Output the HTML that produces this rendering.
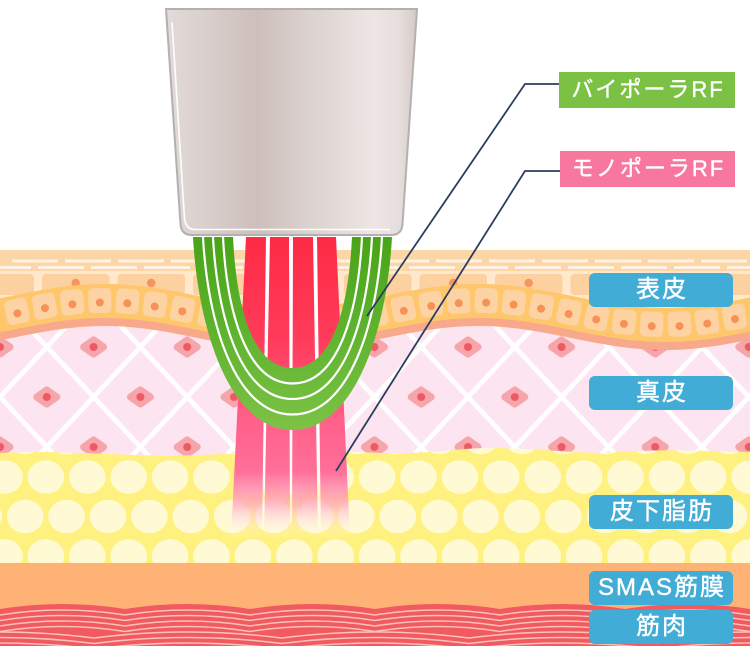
<!DOCTYPE html>
<html><head><meta charset="utf-8">
<style>
html,body{margin:0;padding:0;background:#fff;}
body{width:750px;height:646px;position:relative;overflow:hidden;}
svg{position:absolute;left:0;top:0;}
.lab{position:absolute;color:#fff;text-align:center;font-family:"Liberation Sans","Noto Sans CJK JP",sans-serif;white-space:nowrap;-webkit-text-stroke:0.4px #fff;}
.g{left:559px;top:72px;width:176px;height:36px;line-height:36px;font-size:22px;letter-spacing:2px;background:#7bc143;text-indent:2px;}
.p{left:560px;top:151px;width:175px;height:36px;line-height:36px;font-size:22px;letter-spacing:2px;background:#f7779f;text-indent:2px;}
.b{left:589px;width:144px;height:34px;line-height:34px;font-size:24px;letter-spacing:2px;background:#41acd5;border-radius:6px;text-indent:2px;}
</style></head><body>
<svg width="750" height="646" viewBox="0 0 750 646" xmlns="http://www.w3.org/2000/svg">
<defs>
  <g id="dc">
    <polygon points="-10,0 0,-7 10,0 0,7" fill="#f6a5aa" stroke="#f6a5aa" stroke-width="7" stroke-linejoin="round"/>
    <circle r="4" fill="#ee5a64"/>
  </g>
  <pattern id="derm" patternUnits="userSpaceOnUse" x="0" y="47" width="93.6" height="100">
    <rect width="93.6" height="100" fill="#fce4f0"/>
    <g stroke="#fff" stroke-width="4.8" fill="none">
      <path d="M-10,39.3 L56.8,110.7"/>
      <path d="M36.8,-10.7 L103.6,60.7"/>
      <path d="M56.8,-10.7 L-10,60.7"/>
      <path d="M103.6,39.3 L36.8,110.7"/>
    </g>
    <use href="#dc" x="46.8" y="50"/>
    <use href="#dc" x="0" y="0"/>
    <use href="#dc" x="93.6" y="0"/>
    <use href="#dc" x="0" y="100"/>
    <use href="#dc" x="93.6" y="100"/>
  </pattern>
  <pattern id="fat" patternUnits="userSpaceOnUse" x="4.5" y="477" width="41.4" height="79">
    <rect width="41.4" height="79" fill="#fff17f"/>
    <g fill="#fffad4">
      <ellipse cx="0" cy="0" rx="18.3" ry="16.8"/>
      <ellipse cx="41.4" cy="0" rx="18.3" ry="16.8"/>
      <ellipse cx="0" cy="79" rx="18.3" ry="16.8"/>
      <ellipse cx="41.4" cy="79" rx="18.3" ry="16.8"/>
      <ellipse cx="20.7" cy="39.5" rx="18.3" ry="16.8"/>
    </g>
  </pattern>
  <pattern id="tc" patternUnits="userSpaceOnUse" x="42" y="274" width="75.5" height="22">
    <rect x="0" y="0" width="67.5" height="21" rx="4" fill="#fdd09f"/>
    <circle cx="33.7" cy="9" r="4.2" fill="#f8945e"/>
  </pattern>
  <linearGradient id="devg" gradientUnits="userSpaceOnUse" x1="166" y1="0" x2="417" y2="0">
    <stop offset="0" stop-color="#e2dbd9"/>
    <stop offset="0.147" stop-color="#dad0cd"/>
    <stop offset="0.363" stop-color="#cdbfbb"/>
    <stop offset="0.574" stop-color="#dcd2cf"/>
    <stop offset="0.825" stop-color="#ede6e4"/>
    <stop offset="0.932" stop-color="#e6dedc"/>
    <stop offset="1" stop-color="#d4c9c6"/>
  </linearGradient>
  <linearGradient id="greeng" gradientUnits="userSpaceOnUse" x1="0" y1="237" x2="0" y2="430">
    <stop offset="0" stop-color="#48a418"/>
    <stop offset="0.5" stop-color="#5fb32f"/>
    <stop offset="1" stop-color="#7cc246"/>
  </linearGradient>
  <linearGradient id="redg" gradientUnits="userSpaceOnUse" x1="0" y1="237" x2="0" y2="538">
    <stop offset="0" stop-color="#fd2b44"/>
    <stop offset="0.35" stop-color="#ff3c5b"/>
    <stop offset="0.6" stop-color="#ff5f89"/>
    <stop offset="0.78" stop-color="#ff6f99"/>
    <stop offset="0.89" stop-color="#ff8aad" stop-opacity="0.55"/>
    <stop offset="1" stop-color="#ffffff" stop-opacity="0"/>
  </linearGradient>
  <linearGradient id="wfade" gradientUnits="userSpaceOnUse" x1="0" y1="237" x2="0" y2="540">
    <stop offset="0" stop-color="#fff" stop-opacity="1"/>
    <stop offset="0.7" stop-color="#fff" stop-opacity="1"/>
    <stop offset="0.85" stop-color="#fff" stop-opacity="0.5"/>
    <stop offset="1" stop-color="#fff" stop-opacity="0"/>
  </linearGradient>
</defs>

<rect width="750" height="646" fill="#fff"/>

<!-- dermis -->
<rect x="0" y="310" width="750" height="160" fill="url(#derm)"/>

<!-- top epidermis band -->
<rect x="0" y="250" width="750" height="62" fill="#fdd6a8"/>
<line x1="12" y1="261" x2="750" y2="261" stroke="#fff2e2" stroke-width="3" stroke-dasharray="46 7"/>
<line x1="-15" y1="267.5" x2="750" y2="267.5" stroke="#fff2e2" stroke-width="3" stroke-dasharray="46 7"/>
<rect x="0" y="271" width="750" height="41" fill="#ffe8cc"/>
<rect x="0" y="274" width="750" height="21" fill="url(#tc)"/>
<rect x="0" y="274" width="33" height="21" rx="4" fill="#fdd09f"/>

<!-- wave band -->
<path d="M-81.5,308 C-13.6,308 37.1,284 105,284 C172.9,284 223.6,308 291.5,308 C359.4,308 410.1,284 478,284 C545.9,284 596.6,308 664.5,308 C732.4,308 783.1,284 851,284 L851,326 C783.1,326 732.4,350 664.5,350 C596.6,350 545.9,326 478,326 C410.1,326 359.4,350 291.5,350 C223.6,350 172.9,326 105,326 C37.1,326 -13.6,350 -81.5,350 Z" fill="#f8a88b"/>
<path d="M-81.5,308 C-13.6,308 37.1,284 105,284 C172.9,284 223.6,308 291.5,308 C359.4,308 410.1,284 478,284 C545.9,284 596.6,308 664.5,308 C732.4,308 783.1,284 851,284 L851,318 C783.1,318 732.4,342 664.5,342 C596.6,342 545.9,318 478,318 C410.1,318 359.4,342 291.5,342 C223.6,342 172.9,318 105,318 C37.1,318 -13.6,342 -81.5,342 Z" fill="#fec76c"/>
<g>
  <g transform="translate(17,311.4) rotate(-11.4)"><rect x="-11.5" y="-12.5" width="23" height="25" rx="5" fill="#fdd3a3"/><circle cy="2" r="4" fill="#f79157"/></g>
  <g transform="translate(44.6,306.2) rotate(-9.7)"><rect x="-11.5" y="-12.5" width="23" height="25" rx="5" fill="#fdd3a3"/><circle cy="2" r="4" fill="#f79157"/></g>
  <g transform="translate(72.2,302.3) rotate(-6)"><rect x="-11.5" y="-12.5" width="23" height="25" rx="5" fill="#fdd3a3"/><circle cy="2" r="4" fill="#f79157"/></g>
  <g transform="translate(99.8,300.5) rotate(-1)"><rect x="-11.5" y="-12.5" width="23" height="25" rx="5" fill="#fdd3a3"/><circle cy="2" r="4" fill="#f79157"/></g>
  <g transform="translate(127.4,301.3) rotate(4.2)"><rect x="-11.5" y="-12.5" width="23" height="25" rx="5" fill="#fdd3a3"/><circle cy="2" r="4" fill="#f79157"/></g>
  <g transform="translate(155,304.5) rotate(8.5)"><rect x="-11.5" y="-12.5" width="23" height="25" rx="5" fill="#fdd3a3"/><circle cy="2" r="4" fill="#f79157"/></g>
  <g transform="translate(182.6,309.4) rotate(11)"><rect x="-11.5" y="-12.5" width="23" height="25" rx="5" fill="#fdd3a3"/><circle cy="2" r="4" fill="#f79157"/></g>
  <g transform="translate(210.2,314.9) rotate(11.2)"><rect x="-11.5" y="-12.5" width="23" height="25" rx="5" fill="#fdd3a3"/><circle cy="2" r="4" fill="#f79157"/></g>
  <g transform="translate(237.8,319.9) rotate(9)"><rect x="-11.5" y="-12.5" width="23" height="25" rx="5" fill="#fdd3a3"/><circle cy="2" r="4" fill="#f79157"/></g>
  <g transform="translate(265.4,323.4) rotate(4.8)"><rect x="-11.5" y="-12.5" width="23" height="25" rx="5" fill="#fdd3a3"/><circle cy="2" r="4" fill="#f79157"/></g>
  <g transform="translate(293,324.5) rotate(-0.3)"><rect x="-11.5" y="-12.5" width="23" height="25" rx="5" fill="#fdd3a3"/><circle cy="2" r="4" fill="#f79157"/></g>
  <g transform="translate(320.6,323.1) rotate(-5.4)"><rect x="-11.5" y="-12.5" width="23" height="25" rx="5" fill="#fdd3a3"/><circle cy="2" r="4" fill="#f79157"/></g>
  <g transform="translate(348.2,319.4) rotate(-9.3)"><rect x="-11.5" y="-12.5" width="23" height="25" rx="5" fill="#fdd3a3"/><circle cy="2" r="4" fill="#f79157"/></g>
  <g transform="translate(375.8,314.3) rotate(-11.3)"><rect x="-11.5" y="-12.5" width="23" height="25" rx="5" fill="#fdd3a3"/><circle cy="2" r="4" fill="#f79157"/></g>
  <g transform="translate(403.4,308.8) rotate(-10.8)"><rect x="-11.5" y="-12.5" width="23" height="25" rx="5" fill="#fdd3a3"/><circle cy="2" r="4" fill="#f79157"/></g>
  <g transform="translate(431,304.1) rotate(-8)"><rect x="-11.5" y="-12.5" width="23" height="25" rx="5" fill="#fdd3a3"/><circle cy="2" r="4" fill="#f79157"/></g>
  <g transform="translate(458.6,301.1) rotate(-3.7)"><rect x="-11.5" y="-12.5" width="23" height="25" rx="5" fill="#fdd3a3"/><circle cy="2" r="4" fill="#f79157"/></g>
  <g transform="translate(486.2,300.6) rotate(1.6)"><rect x="-11.5" y="-12.5" width="23" height="25" rx="5" fill="#fdd3a3"/><circle cy="2" r="4" fill="#f79157"/></g>
  <g transform="translate(513.8,302.6) rotate(6.5)"><rect x="-11.5" y="-12.5" width="23" height="25" rx="5" fill="#fdd3a3"/><circle cy="2" r="4" fill="#f79157"/></g>
  <g transform="translate(541.4,306.7) rotate(10)"><rect x="-11.5" y="-12.5" width="23" height="25" rx="5" fill="#fdd3a3"/><circle cy="2" r="4" fill="#f79157"/></g>
  <g transform="translate(569,312) rotate(11.4)"><rect x="-11.5" y="-12.5" width="23" height="25" rx="5" fill="#fdd3a3"/><circle cy="2" r="4" fill="#f79157"/></g>
  <g transform="translate(596.6,317.5) rotate(10.4)"><rect x="-11.5" y="-12.5" width="23" height="25" rx="5" fill="#fdd3a3"/><circle cy="2" r="4" fill="#f79157"/></g>
  <g transform="translate(624.2,321.8) rotate(7.2)"><rect x="-11.5" y="-12.5" width="23" height="25" rx="5" fill="#fdd3a3"/><circle cy="2" r="4" fill="#f79157"/></g>
  <g transform="translate(651.8,324.2) rotate(2.4)"><rect x="-11.5" y="-12.5" width="23" height="25" rx="5" fill="#fdd3a3"/><circle cy="2" r="4" fill="#f79157"/></g>
  <g transform="translate(679.4,324.1) rotate(-2.8)"><rect x="-11.5" y="-12.5" width="23" height="25" rx="5" fill="#fdd3a3"/><circle cy="2" r="4" fill="#f79157"/></g>
  <g transform="translate(707,321.6) rotate(-7.5)"><rect x="-11.5" y="-12.5" width="23" height="25" rx="5" fill="#fdd3a3"/><circle cy="2" r="4" fill="#f79157"/></g>
  <g transform="translate(734.6,317.1) rotate(-10.5)"><rect x="-11.5" y="-12.5" width="23" height="25" rx="5" fill="#fdd3a3"/><circle cy="2" r="4" fill="#f79157"/></g>
</g>

<!-- fat -->
<path d="M0,453 C60,449 140,458 200,455 C260,452 320,450 380,453 C430,455 460,447 500,448 C560,450 590,455 620,452 C670,449 710,451 750,452 L750,563 L0,563 Z" fill="url(#fat)"/>

<!-- SMAS -->
<rect x="0" y="563" width="750" height="50" fill="#feb276"/>

<!-- muscle -->
<path d="M0,609 Q62.5,599 125,609 Q187.5,599 250,609 Q312.5,599 375,609 Q437.5,599 500,609 Q562.5,599 625,609 Q687.5,599 750,609 L750,646 L0,646 Z" fill="#f15b5f"/>
<g fill="none" stroke="#fcc1bb" stroke-width="1.5">
  <path d="M0,615 Q62.5,605 125,615 Q187.5,605 250,615 Q312.5,605 375,615 Q437.5,605 500,615 Q562.5,605 625,615 Q687.5,605 750,615"/>
  <path d="M0,620.5 Q62.5,610.5 125,620.5 Q187.5,610.5 250,620.5 Q312.5,610.5 375,620.5 Q437.5,610.5 500,620.5 Q562.5,610.5 625,620.5 Q687.5,610.5 750,620.5"/>
  <path d="M0,626 Q62.5,616 125,626 Q187.5,616 250,626 Q312.5,616 375,626 Q437.5,616 500,626 Q562.5,616 625,626 Q687.5,616 750,626"/>
  <path d="M0,631.5 Q62.5,621.5 125,631.5 Q187.5,621.5 250,631.5 Q312.5,621.5 375,631.5 Q437.5,621.5 500,631.5 Q562.5,621.5 625,631.5 Q687.5,621.5 750,631.5"/>
  <path d="M-93.5,638 Q0.25,626 94,638 Q187.75,626 281.5,638 Q375.25,626 469,638 Q562.75,626 656.5,638 Q750.25,626 844,638"/>
  <path d="M-93.5,643.5 Q0.25,631.5 94,643.5 Q187.75,631.5 281.5,643.5 Q375.25,631.5 469,643.5 Q562.75,631.5 656.5,643.5 Q750.25,631.5 844,643.5"/>
  <path d="M-93.5,649 Q0.25,637 94,649 Q187.75,637 281.5,649 Q375.25,637 469,649 Q562.75,637 656.5,649 Q750.25,637 844,649"/>
</g>

<!-- monopolar beams -->
<polygon points="246,237 336,237 350,540 231,540" fill="url(#wfade)"/>
<g fill="url(#redg)">
  <polygon points="246,237 266,237 262,538 231,538"/>
  <polygon points="270,237 289,237 290,538 264,538"/>
  <polygon points="293,237 313,237 318,538 292,538"/>
  <polygon points="317,237 336,237 350,538 321,538"/>
</g>

<!-- bipolar U -->
<path d="M193,237 C198,330 230,430 292.5,430 C355,430 387,330 392,237 L352,237 C349,300 335,368 292.5,368 C250,368 236,300 233,237 Z" fill="url(#greeng)"/>
<g fill="none" stroke="#fff" stroke-width="2.2">
  <path d="M203,237 C207.5,322.5 235,414.5 292.5,414.5 C350,414.5 377.5,322.5 382,237"/>
  <path d="M213,237 C217,315 240,399 292.5,399 C345,399 368,315 372,237"/>
  <path d="M223,237 C226.5,307.5 245,383.5 292.5,383.5 C340,383.5 358.5,307.5 362,237"/>
</g>

<!-- device -->
<path d="M166,9 L417,9 L402.5,224 Q401.8,235 391,235 L192,235 Q181.2,235 180.5,224 Z" fill="url(#devg)" stroke="#b3b1b0" stroke-width="2"/>
<path d="M172,22 L184.5,218 Q185.5,229.5 195,229.5 L390,229.5" fill="none" stroke="#fff" stroke-width="1.6" opacity="0.95"/>

<!-- connectors -->
<g fill="none" stroke="#2c3e5e" stroke-width="1.8">
  <polyline points="367,316 525,84 559,84"/>
  <polyline points="336,471 525,171 560,171"/>
</g>
</svg>

<div class="lab g">バイポーラRF</div>
<div class="lab p">モノポーラRF</div>
<div class="lab b" style="top:273px;">表皮</div>
<div class="lab b" style="top:376px;">真皮</div>
<div class="lab b" style="top:495px;">皮下脂肪</div>
<div class="lab b" style="top:571px;">SMAS筋膜</div>
<div class="lab b" style="top:610px;">筋肉</div>
</body></html>
